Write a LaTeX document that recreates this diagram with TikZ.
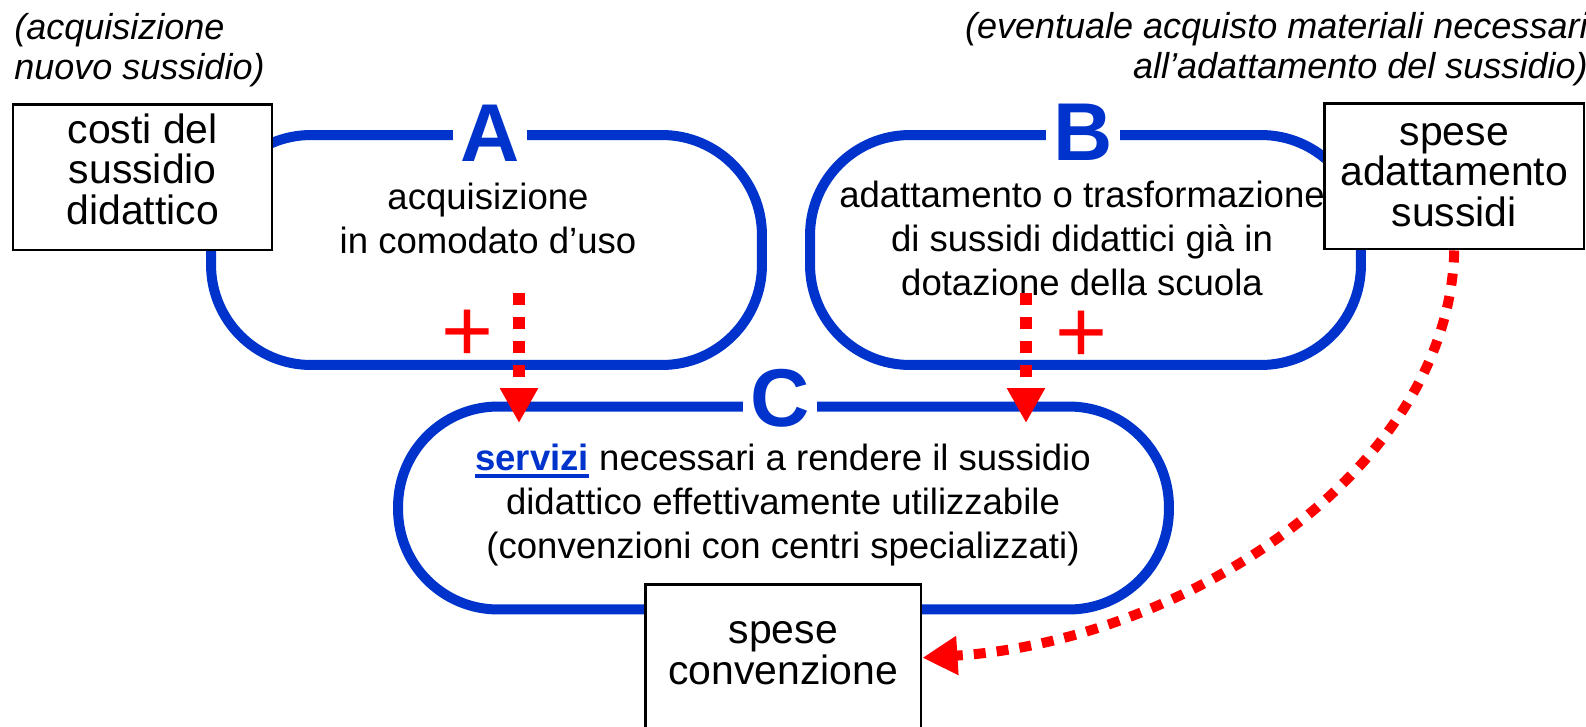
\documentclass[tikz,border=0pt]{standalone}
\usepackage{fontspec}
\setmainfont{Liberation Sans}
\usetikzlibrary{arrows.meta}
\definecolor{cycleblue}{RGB}{0,51,204}
\newlength{\ulwd}
\newcommand{\thickuline}[1]{\settowidth{\ulwd}{#1}\rlap{\rule[-4.6pt]{\ulwd}{2.6pt}}#1}
\begin{document}
\begin{tikzpicture}[x=0.02cm, y=-0.02cm,
  cycle/.style={draw=cycleblue, line width=0.2cm, rounded corners=2cm, inner sep=0pt, minimum width=11.02cm, minimum height=4.6cm},
  letter/.style={font=\fontsize{46.7}{50}\selectfont\bfseries, text=cycleblue, fill=white, inner xsep=0.14cm, inner ysep=0pt, anchor=base},
  body/.style={font=\fontsize{20.8}{25}\selectfont, align=center, anchor=base, inner sep=0pt},
  costbox/.style={draw, fill=white, line width=0.05cm, align=center, inner sep=0pt, anchor=north west, font=\fontsize{23.3}{23}\selectfont},
  note/.style={font=\fontsize{20.5}{22.2}\selectfont\itshape, inner sep=0pt},
  plus/.style={font=\fontsize{50.7}{52}\selectfont, text=red, anchor=base, inner sep=0pt},
  dasharrow/.style={draw=red, line width=0.25cm, dash pattern=on 0.24cm off 0.24cm, -{Triangle[length=0.7cm, width=0.72cm]}},
  dotarrow/.style={draw=red, line width=0.2cm, dash pattern=on 0.24cm off 0.22cm, -{Triangle[length=0.7cm, width=0.74cm]}}]
\useasboundingbox (0,0) rectangle (1586,727);

\node[cycle] (acq) at (486.5,250) {};
\node[cycle] (adatt) at (1085.5,250) {};
\node[cycle, minimum width=15.42cm, minimum height=4.06cm] (serv) at (783.5,508) {};

\node[letter] (la) at (490,161) {A};
\node[letter] (lb) at (1083,160) {B};
\node[letter] (lc) at (780,426) {C};

\node[body] (acqtxt) at (488,253) {acquisizione\\in comodato d’uso};
\node[body] (adatttxt) at (1082,295) {adattamento o trasformazione\\di sussidi didattici già in\\dotazione della scuola};
\node[body] (servtxt) at (783,558) {\textcolor{cycleblue}{\bfseries\thickuline{servizi}} necessari a rendere il sussidio\\didattico effettivamente utilizzabile\\(convenzioni con centri specializzati)};

\node[costbox, minimum width=5.18cm, text height=2.4cm, text depth=0.52cm] (costi) at (12,103) {costi del\\sussidio\\didattico};
\node[costbox, minimum width=5.2cm, text height=2.46cm, text depth=0.46cm] (spadatt) at (1323,102) {spese\\adattamento\\sussidi};
\node[costbox, minimum width=5.52cm, text height=2cm, text depth=0.94cm] (spconv) at (644,583) {spese\\convenzione};

\node[note, align=left, anchor=base west] (notel) at (14,79) {(acquisizione\\nuovo sussidio)};
\node[note, align=right, anchor=base east] (noter) at (1588,78) {(eventuale acquisto materiali necessari\\all’adattamento del sussidio)};

\node[plus] (plusa) at (468,361) {+};
\node[plus] (plusb) at (1081,362) {+};

\coordinate (afrom) at (519,293);
\coordinate (ato) at (519,423);
\coordinate (bfrom) at (1026,293);
\coordinate (bto) at (1026,423);
\draw[dasharrow] (afrom) -- (ato);
\draw[dasharrow] (bfrom) -- (bto);
\draw[dotarrow] (spadatt.south) .. controls +(-5,222) and +(258,-16) .. (spconv.east);
\end{tikzpicture}
\end{document}
